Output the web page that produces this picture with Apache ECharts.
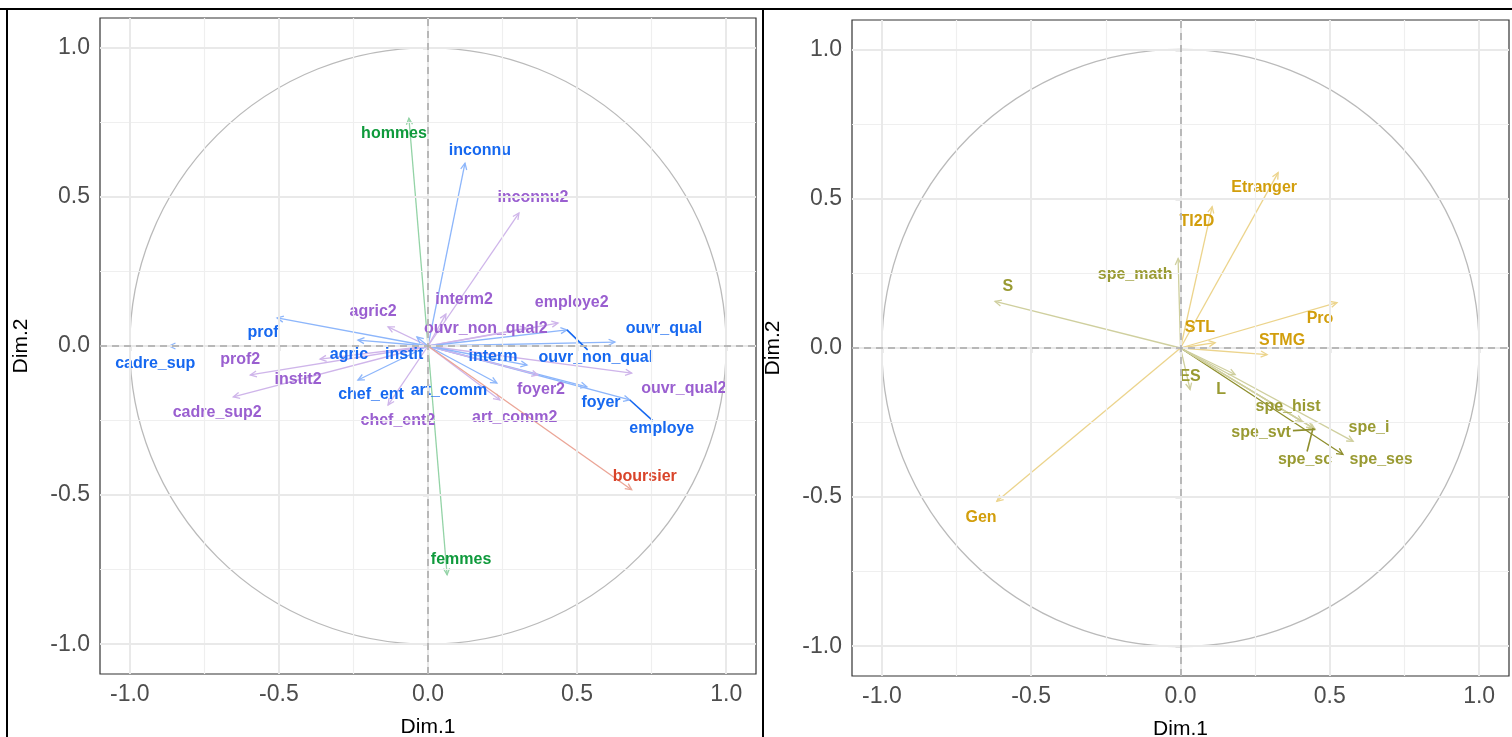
<!DOCTYPE html>
<html>
<head>
<meta charset="utf-8">
<script src="https://cdn.jsdelivr.net/npm/echarts@6/dist/echarts.min.js"></script>
<style>
  html, body { margin: 0; padding: 0; background: #fff; }
  #main { width: 1512px; height: 737px; }
</style>
</head>
<body>
<div id="main"></div>
<script>
// left panel: variables (tip of arrow, label position, group)
const leftNames = ['hommes', 'femmes', 'inconnu', 'inconnu2', 'interm2', 'employe2', 'ouvr_non_qual2',
  'ouvr_non_qual', 'ouvr_qual', 'ouvr_qual2', 'employe', 'foyer', 'foyer2', 'interm', 'art_comm',
  'art_comm2', 'boursier', 'cadre_sup', 'prof', 'agric2', 'agric', 'prof2', 'instit2', 'instit',
  'chef_ent', 'chef_ent2', 'cadre_sup2'];
const leftX = [-0.064, 0.064, 0.124, 0.305, 0.060, 0.436, 0.330, 0.466, 0.627, 0.683, 0.677, 0.533,
  0.369, 0.332, 0.231, 0.241, 0.683, -0.868, -0.506, -0.134, -0.235, -0.596, -0.362, -0.037,
  -0.235, -0.134, -0.653];
const leftY = [0.764, -0.767, 0.613, 0.446, 0.107, 0.077, 0.060, 0.054, 0.013, -0.091, -0.181, -0.137,
  -0.097, -0.064, -0.124, -0.181, -0.482, 0.000, 0.094, 0.064, 0.020, -0.097, -0.044, 0.030,
  -0.114, -0.198, -0.171];
const leftLabelX = [-0.114, 0.111, 0.174, 0.352, 0.121, 0.482, 0.194, 0.563, 0.791, 0.858, 0.784, 0.580,
  0.379, 0.218, 0.070, 0.291, 0.727, -0.915, -0.553, -0.184, -0.265, -0.630, -0.436, -0.080,
  -0.191, -0.101, -0.707];
const leftLabelY = [0.714, -0.717, 0.657, 0.499, 0.157, 0.144, 0.057, -0.040, 0.060, -0.144, -0.278, -0.191,
  -0.147, -0.037, -0.151, -0.241, -0.439, -0.060, 0.044, 0.117, -0.030, -0.047, -0.114, -0.030,
  -0.164, -0.251, -0.224];
const leftGroup = ['sexe', 'sexe', 'pcs', 'pcs2', 'pcs2', 'pcs2', 'pcs2', 'pcs', 'pcs', 'pcs2', 'pcs', 'pcs',
  'pcs2', 'pcs', 'pcs', 'pcs2', 'bourse', 'pcs', 'pcs', 'pcs2', 'pcs', 'pcs2', 'pcs2', 'pcs',
  'pcs', 'pcs2', 'pcs2'];

// right panel
const rightNames = ['Etranger', 'TI2D', 'spe_math', 'S', 'Pro', 'STL', 'STMG', 'ES', 'L', 'spe_hist',
  'spe_l', 'spe_ses', 'spe_svt', 'spe_sc', 'Gen'];
const rightX = [0.327, 0.106, -0.008, -0.621, 0.524, 0.116, 0.290, 0.032, 0.183, 0.407,
  0.578, 0.544, 0.451, 0.444, -0.615];
const rightY = [0.588, 0.474, 0.300, 0.156, 0.152, 0.018, -0.022, -0.139, -0.089, -0.246,
  -0.313, -0.357, -0.273, -0.268, -0.514];
const rightLabelX = [0.280, 0.055, -0.152, -0.578, 0.467, 0.065, 0.340, 0.032, 0.136, 0.360,
  0.631, 0.672, 0.270, 0.417, -0.668];
const rightLabelY = [0.538, 0.424, 0.246, 0.206, 0.099, 0.069, 0.025, -0.095, -0.139, -0.196,
  -0.266, -0.374, -0.283, -0.374, -0.568];
const rightGroup = ['filiere', 'filiere', 'spe', 'spe', 'filiere', 'filiere', 'filiere', 'spe', 'spe', 'spe',
  'spe', 'spe_dark', 'spe', 'spe', 'filiere'];

const tickValues = [-1, -0.5, 0, 0.5, 1];
const minorValues = [-0.75, -0.25, 0.25, 0.75];

const textColor = {
  sexe: '#0f9a3c', pcs: '#1668f0', pcs2: '#9a5fd0', bourse: '#d9442a',
  filiere: '#d29e0c', spe: '#999a32', spe_dark: '#999a32'
};
const arrowColor = {
  sexe: '#93d3a6', pcs: '#8db6fb', pcs2: '#cfb5ea', bourse: '#eba596',
  filiere: '#ecd48c', spe: '#cfcf9e', spe_dark: '#8e8e2c'
};

const LABEL_FONT = 'bold 16px "Liberation Sans", Arial, sans-serif';
const measureCtx = document.createElement('canvas').getContext('2d');
measureCtx.font = LABEL_FONT;

function panelData(xs, ys, lxs, lys) {
  return xs.map(function (x, i) { return [x, ys[i], lxs[i], lys[i]]; });
}

function arrowRenderer(groups) {
  return function (params, api) {
    const o = api.coord([0, 0]);
    const p = api.coord([api.value(0), api.value(1)]);
    const ang = Math.atan2(p[1] - o[1], p[0] - o[0]);
    const L = 7, a = Math.PI / 7;
    const col = arrowColor[groups[params.dataIndex]];
    const style = { stroke: col, lineWidth: 1.3, fill: null };
    return {
      type: 'group',
      children: [
        { type: 'line', shape: { x1: o[0], y1: o[1], x2: p[0], y2: p[1] }, style: style },
        { type: 'polyline', shape: { points: [
          [p[0] - L * Math.cos(ang - a), p[1] - L * Math.sin(ang - a)],
          p,
          [p[0] - L * Math.cos(ang + a), p[1] - L * Math.sin(ang + a)]
        ] }, style: style }
      ]
    };
  };
}

function labelRenderer(names, groups, leaders) {
  return function (params, api) {
    const i = params.dataIndex;
    const p = api.coord([api.value(0), api.value(1)]);
    const c = api.coord([api.value(2), api.value(3)]);
    const col = textColor[groups[i]];
    const children = [];
    if (leaders.indexOf(names[i]) >= 0) {
      const w = measureCtx.measureText(names[i]).width / 2 + 2, h = 8;
      const dx = p[0] - c[0], dy = p[1] - c[1];
      const t = Math.min(dx ? w / Math.abs(dx) : 1e9, dy ? h / Math.abs(dy) : 1e9);
      if (t < 1) {
        children.push({ type: 'line', shape: { x1: c[0] + t * dx, y1: c[1] + t * dy, x2: p[0], y2: p[1] },
          style: { stroke: groups === rightGroup ? '#8e8e2c' : '#1668f0', lineWidth: 1.6 } });
      }
    }
    children.push({ type: 'text', x: c[0], y: c[1], style: {
      text: names[i], font: LABEL_FONT, fill: col, align: 'center', verticalAlign: 'middle'
    } });
    return { type: 'group', children: children };
  };
}

function circleRenderer(params, api) {
  const o = api.coord([0, 0]);
  const r = api.size([1, 0])[0];
  return { type: 'circle', shape: { cx: o[0], cy: o[1], r: r },
    style: { stroke: '#bababa', lineWidth: 1.3, fill: null } };
}

function gridLines(idx) {
  const major = { lineStyle: { color: '#e9e9e9', width: 2, type: 'solid' } };
  const minor = { lineStyle: { color: '#efefef', width: 1.2, type: 'solid' } };
  const data = [];
  minorValues.forEach(function (v) {
    data.push(Object.assign({ xAxis: v }, minor));
    data.push(Object.assign({ yAxis: v }, minor));
  });
  tickValues.forEach(function (v) {
    data.push(Object.assign({ xAxis: v }, major));
    data.push(Object.assign({ yAxis: v }, major));
  });
  return {
    type: 'line', xAxisIndex: idx, yAxisIndex: idx, data: [], z: 0, silent: true,
    markLine: { symbol: 'none', silent: true, label: { show: false }, animation: false, data: data }
  };
}

function zeroLines(idx) {
  return {
    type: 'line', xAxisIndex: idx, yAxisIndex: idx, data: [], z: 1, silent: true,
    markLine: { symbol: 'none', silent: true, label: { show: false }, animation: false,
      lineStyle: { color: '#a8a8a8', width: 1.5, type: [7, 5] },
      data: [{ xAxis: 0 }, { yAxis: 0 }] }
  };
}

function xAxis(idx) {
  return {
    gridIndex: idx, type: 'value', min: -1.1, max: 1.1,
    name: 'Dim.1', nameLocation: 'middle', nameGap: 43,
    nameTextStyle: { color: '#000', fontSize: 21, fontFamily: 'Liberation Sans' },
    axisLine: { show: false },
    axisTick: { show: true, customValues: tickValues, length: 5, lineStyle: { color: '#333', width: 1.2 } },
    axisLabel: { customValues: tickValues, margin: 9, color: '#4d4d4d', fontSize: 23,
      fontFamily: 'Liberation Sans', formatter: function (v) { return v.toFixed(1); } },
    splitLine: { show: false }
  };
}

function yAxis(idx) {
  return {
    gridIndex: idx, type: 'value', min: -1.1, max: 1.1,
    name: 'Dim.2', nameLocation: 'middle', nameGap: 68,
    nameTextStyle: { color: '#000', fontSize: 21, fontFamily: 'Liberation Sans' },
    axisLine: { show: false },
    axisTick: { show: true, customValues: tickValues, length: 5, lineStyle: { color: '#333', width: 1.2 } },
    axisLabel: { customValues: tickValues, margin: 10, color: '#4d4d4d', fontSize: 23,
      fontFamily: 'Liberation Sans', formatter: function (v) { return v.toFixed(1); } },
    splitLine: { show: false }
  };
}

const chart = echarts.init(document.getElementById('main'));
chart.setOption({
  animation: false,
  backgroundColor: '#fff',
  grid: [
    { left: 100, top: 18, width: 656, height: 656, outerBoundsMode: 'none', show: true,
      borderColor: '#333', borderWidth: 1.2, backgroundColor: 'transparent' },
    { left: 852, top: 20, width: 657, height: 656, outerBoundsMode: 'none', show: true,
      borderColor: '#333', borderWidth: 1.2, backgroundColor: 'transparent' }
  ],
  xAxis: [xAxis(0), xAxis(1)],
  yAxis: [yAxis(0), yAxis(1)],
  graphic: [
    { type: 'line', shape: { x1: 0, y1: 9, x2: 1512, y2: 9 }, style: { stroke: '#000', lineWidth: 2 } },
    { type: 'line', shape: { x1: 7, y1: 9, x2: 7, y2: 737 }, style: { stroke: '#000', lineWidth: 2 } },
    { type: 'line', shape: { x1: 763, y1: 9, x2: 763, y2: 737 }, style: { stroke: '#000', lineWidth: 2 } }
  ],
  series: [
    gridLines(0), gridLines(1),
    zeroLines(0), zeroLines(1),
    { type: 'custom', xAxisIndex: 0, yAxisIndex: 0, z: 2, clip: false, data: [[0, 0]], renderItem: circleRenderer },
    { type: 'custom', xAxisIndex: 1, yAxisIndex: 1, z: 2, clip: false, data: [[0, 0]], renderItem: circleRenderer },
    { type: 'custom', xAxisIndex: 0, yAxisIndex: 0, z: 3, data: panelData(leftX, leftY, leftLabelX, leftLabelY),
      renderItem: arrowRenderer(leftGroup) },
    { type: 'custom', xAxisIndex: 1, yAxisIndex: 1, z: 3, data: panelData(rightX, rightY, rightLabelX, rightLabelY),
      renderItem: arrowRenderer(rightGroup) },
    { type: 'custom', xAxisIndex: 0, yAxisIndex: 0, z: 4, data: panelData(leftX, leftY, leftLabelX, leftLabelY),
      renderItem: labelRenderer(leftNames, leftGroup, ['ouvr_non_qual', 'employe']) },
    { type: 'custom', xAxisIndex: 1, yAxisIndex: 1, z: 4, data: panelData(rightX, rightY, rightLabelX, rightLabelY),
      renderItem: labelRenderer(rightNames, rightGroup, ['spe_svt', 'spe_sc']) }
  ]
});
</script>
</body>
</html>
